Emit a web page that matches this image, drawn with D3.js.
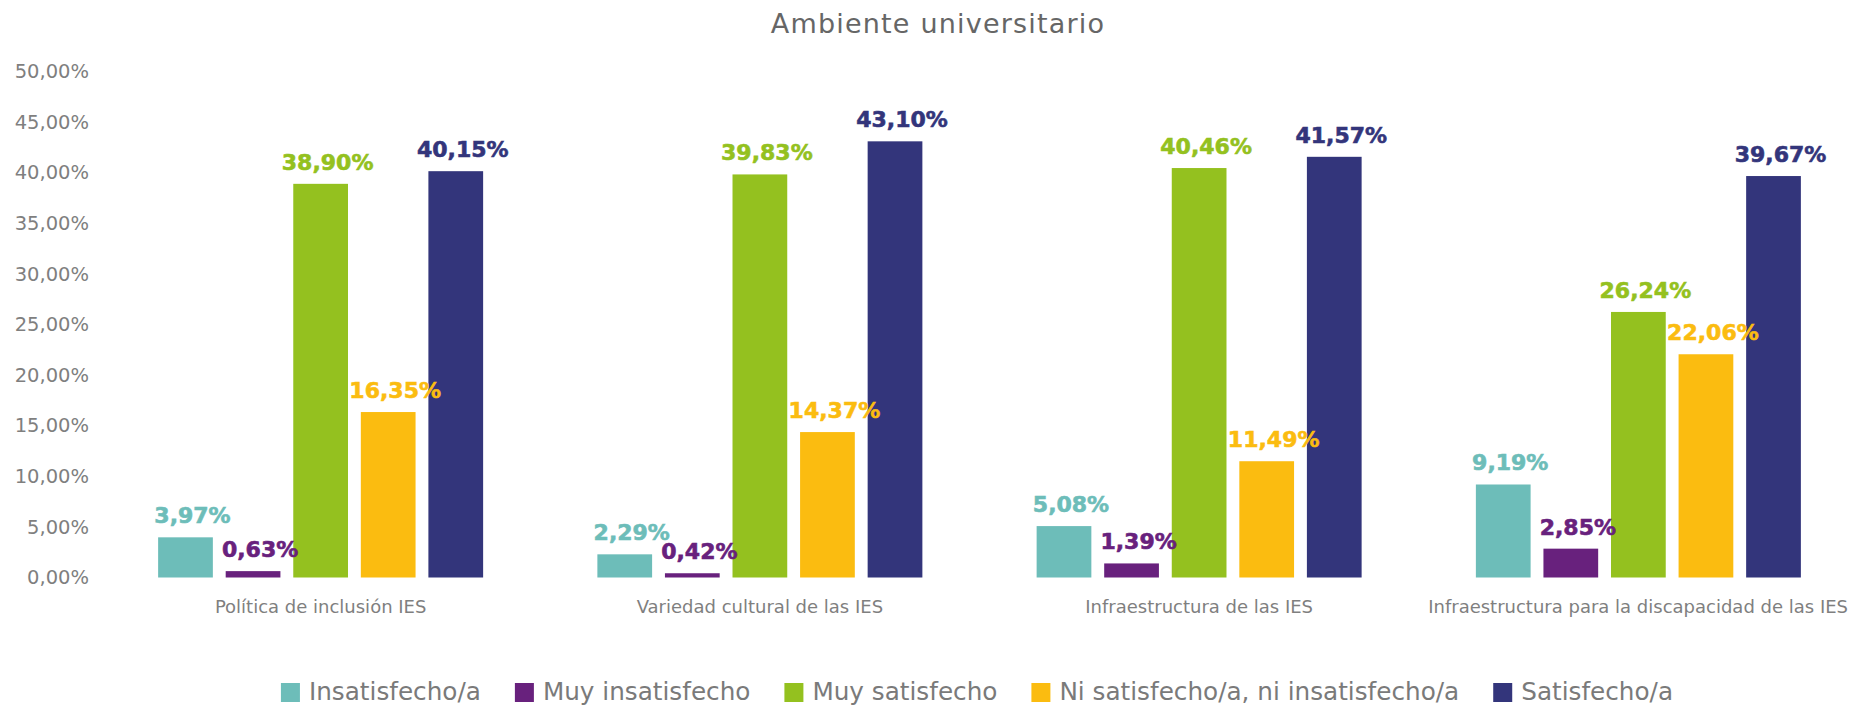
<!DOCTYPE html>
<html>
<head>
<meta charset="utf-8">
<script src="https://cdn.jsdelivr.net/npm/d3@7"></script>
<style>
    body { margin: 0; background: #fff; }
    svg { display: block; font-family: "DejaVu Sans", sans-serif; }
</style>
</head>
<body>
<svg id="chart"></svg>
<script>
// data
var categories = [
    "Política de inclusión IES",
    "Variedad cultural de las IES",
    "Infraestructura de las IES",
    "Infraestructura para la discapacidad de las IES"
];
var seriesNames = [
    "Insatisfecho/a",
    "Muy insatisfecho",
    "Muy satisfecho",
    "Ni satisfecho/a, ni insatisfecho/a",
    "Satisfecho/a"
];
var insatisfecho    = [3.97, 2.29, 5.08, 9.19];
var muyInsatisfecho = [0.63, 0.42, 1.39, 2.85];
var muySatisfecho   = [38.90, 39.83, 40.46, 26.24];
var niNi            = [16.35, 14.37, 11.49, 22.06];
var satisfecho      = [40.15, 43.10, 41.57, 39.67];
var yTicks = [0, 5, 10, 15, 20, 25, 30, 35, 40, 45, 50];

var colors = ["#6dbdb9", "#68217d", "#94c11f", "#fbbc10", "#33357b"];

var width = 1851,
    height = 707;

var svg = d3.select("#chart").attr("width", width).attr("height", height);

var seriesValues = [insatisfecho, muyInsatisfecho, muySatisfecho, niNi, satisfecho];
var rows = categories.map(function(c, i) {
    return {
        category: c,
        values: seriesNames.map(function(s, j) {
            return { series: s, idx: j, value: seriesValues[j][i] };
        })
    };
});

// comma decimal format  -> "50,00%"
var esLocale = d3.formatLocale({ decimal: ",", thousands: ".", grouping: [3], currency: ["", "€"] });
var fmt = esLocale.format(".2f");
var pct = function(v) { return fmt(v) + "%"; };

// scales
var x0 = d3.scaleBand()
    .domain(categories)
    .range([101, 1858])
    .padding(0);

var groupWidth = 325;
var x1 = d3.scaleBand()
    .domain(d3.range(seriesNames.length))
    .range([-groupWidth / 2, groupWidth / 2])
    .paddingInner(0.19)
    .paddingOuter(0);

var y = d3.scaleLinear()
    .domain([0, 50])
    .range([577.5, 71.5]);

// title
svg.append("text")
    .attr("x", 938)
    .attr("y", 33)
    .attr("text-anchor", "middle")
    .style("font-size", "27px")
    .style("letter-spacing", "1.2px")
    .style("fill", "#666666")
    .text("Ambiente universitario");

// y axis, labels only
var yAxis = d3.axisLeft(y)
    .tickValues(yTicks)
    .tickSize(0)
    .tickPadding(0)
    .tickFormat(pct);

var gy = svg.append("g")
    .attr("transform", "translate(89,0)")
    .call(yAxis);
gy.select(".domain").remove();
gy.selectAll("text")
    .style("font-family", "DejaVu Sans, sans-serif")
    .style("font-size", "19.5px")
    .style("fill", "#7f7f7f");

// bars
var groups = svg.selectAll(".grp")
    .data(rows)
    .enter()
    .append("g")
    .attr("class", "grp")
    .attr("transform", function(d) {
        return "translate(" + (x0(d.category) + x0.bandwidth() / 2) + ",0)";
    });

groups.selectAll("rect")
    .data(function(d) { return d.values; })
    .enter()
    .append("rect")
    .attr("x", function(d) { return x1(d.idx); })
    .attr("width", x1.bandwidth())
    .attr("y", function(d) { return y(d.value); })
    .attr("height", function(d) { return y(0) - y(d.value); })
    .style("fill", function(d) { return colors[d.idx]; });

groups.selectAll(".val")
    .data(function(d) { return d.values; })
    .enter()
    .append("text")
    .attr("class", "val")
    .attr("x", function(d) { return x1(d.idx) + x1.bandwidth() / 2 + 7; })
    .attr("y", function(d) { return y(d.value) - 14; })
    .attr("text-anchor", "middle")
    .style("font-size", "22px")
    .style("font-weight", "bold")
    .style("stroke", function(d) { return colors[d.idx]; })
    .style("stroke-width", "0.6px")
    .style("fill", function(d) { return colors[d.idx]; })
    .text(function(d) { return pct(d.value); });

// category labels
svg.selectAll(".cat")
    .data(categories)
    .enter()
    .append("text")
    .attr("class", "cat")
    .attr("x", function(d) { return x0(d) + x0.bandwidth() / 2; })
    .attr("y", 613)
    .attr("text-anchor", "middle")
    .style("font-size", "18px")
    .style("fill", "#7f7f7f")
    .text(function(d) { return d; })
    .each(function() {
        // keep the last one inside the picture
        var bb = this.getBBox();
        if (bb.x + bb.width > width - 3) {
            d3.select(this).attr("x", +d3.select(this).attr("x") - (bb.x + bb.width - (width - 3)));
        }
    });

// legend
var legend = svg.append("g");
var lx = 0;
seriesNames.forEach(function(s, i) {
    var item = legend.append("g").attr("transform", "translate(" + lx + ",0)");
    item.append("rect")
        .attr("x", 0)
        .attr("y", 683)
        .attr("width", 19)
        .attr("height", 19)
        .style("fill", colors[i]);
    var t = item.append("text")
        .attr("x", 28)
        .attr("y", 700)
        .style("font-size", "24.7px")
        .style("fill", "#7a7a7a")
        .text(s);
    lx += 28 + t.node().getComputedTextLength() + 34;
});
lx -= 34;
legend.attr("transform", "translate(" + (977 - lx / 2) + ",0)");
</script>
</body>
</html>
